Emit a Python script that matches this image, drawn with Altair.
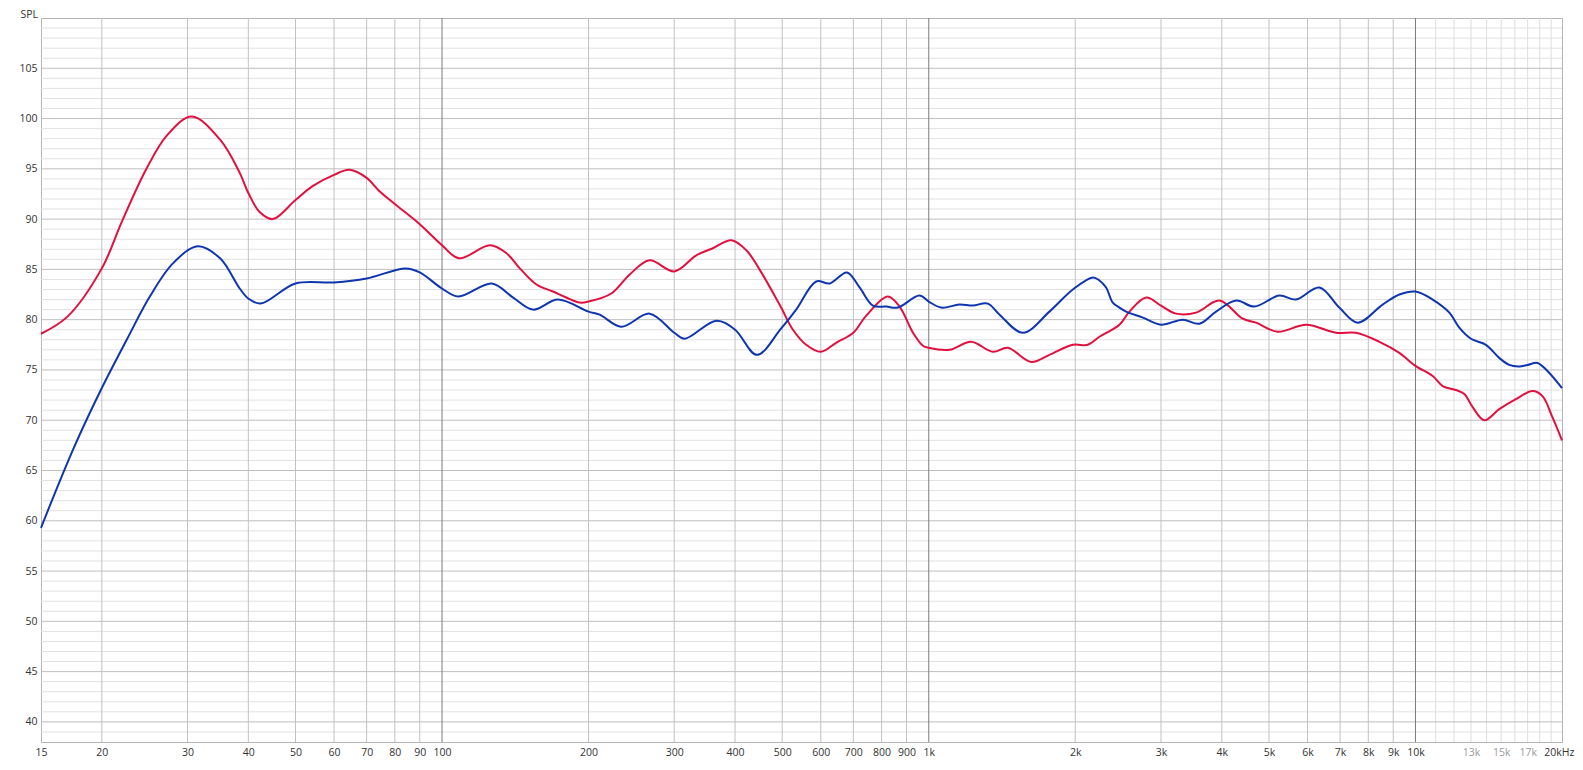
import altair as alt
import pandas as pd

# ---- data ----
red_freq = [15, 17, 20, 21.97, 24.7, 27.2, 30.6, 35.0, 38.4, 40, 42.2, 44.9, 50, 54.3, 60, 64.6, 70, 74.3, 80, 90, 100,
            108.4, 125.4, 135.7, 144.5, 156.3, 169, 180, 191.8, 200, 222.8, 243, 267, 300, 333, 360, 393, 422, 449, 495,
            526, 560, 600, 645, 700, 744, 824, 871, 928, 973, 1000, 1103, 1222, 1354, 1453, 1624, 1770, 1977, 2122,
            2242, 2465, 2584, 2797, 3000, 3221, 3543, 3955, 4416, 4704, 5212, 5961, 6868, 7549, 8430, 9266, 10000,
            10846, 11376, 12113, 12600, 13105, 13849, 14863, 16080, 17395, 18236, 19113, 20000]
red_spl = [78.6, 80.3, 85.1, 89.7, 95.0, 98.3, 100.2, 97.9, 94.6, 92.6, 90.7, 90.0, 91.9, 93.3, 94.4, 94.9, 94.1, 92.8,
           91.5, 89.5, 87.4,
           86.1, 87.4, 86.6, 85.1, 83.5, 82.8, 82.2, 81.7, 81.8, 82.6, 84.5, 85.9, 84.8, 86.4, 87.1, 87.9, 86.9, 85.0,
           81.4,
           79.0, 77.5, 76.8, 77.7, 78.7, 80.4, 82.3, 81.3, 78.7, 77.4, 77.2, 77.0, 77.8, 76.8, 77.2, 75.8, 76.5, 77.5,
           77.5,
           78.3, 79.5, 80.8, 82.2, 81.4, 80.6, 80.7, 81.9, 80.1, 79.7, 78.8, 79.5, 78.7, 78.7, 77.8, 76.7, 75.4,
           74.4, 73.4, 73.0, 72.6, 71.3, 70.0, 71.1, 72.1, 72.9, 72.4, 70.3, 68.0]

blue_freq = [15, 17.5, 20, 22.5, 25.1, 28.0, 31.5, 35, 38.4, 40, 42.4, 50, 60, 70, 84.2, 90, 100,
             108, 126.5, 140, 153.8, 173, 200, 210.8, 233.5, 267, 300, 315, 366, 400, 443.6, 497,
             534, 587, 626, 679, 721, 768, 818, 864, 957, 1000, 1061, 1156, 1232, 1322, 1398, 1561, 1770, 1977,
             2173, 2242, 2314, 2388, 2465, 2544, 2753, 3000, 3325, 3598, 3893, 4280, 4667, 5252, 5683, 6346, 6974,
             7605, 8560, 9266, 10000, 10846, 11738, 12303, 13002, 13957, 14863, 15581, 16337, 16990, 17810, 18669,
             20000]
blue_spl = [59.3, 67.2, 73.2, 78.0, 82.3, 85.6, 87.3, 86.1, 83.1, 82.1, 81.6, 83.6, 83.7, 84.1, 85.1, 84.7, 83.1,
            82.3, 83.6, 82.2, 81.0, 82.0, 80.8, 80.5, 79.3, 80.6, 78.7, 78.1, 79.9, 79.0, 76.5, 79.1,
            81.0, 83.8, 83.6, 84.7, 83.2, 81.4, 81.3, 81.2, 82.4, 81.8, 81.2, 81.5, 81.4, 81.6, 80.5, 78.7, 80.8, 83.0,
            84.2, 83.9, 83.2, 81.7, 81.2, 80.8, 80.2, 79.5, 80.0, 79.6, 80.8, 81.9, 81.3, 82.4, 82.0, 83.2, 81.2,
            79.7, 81.5, 82.5, 82.8, 82.0, 80.7, 79.2, 78.1, 77.5, 76.2, 75.5, 75.35, 75.5, 75.7, 74.9,
            73.2]

x_tick_values = [15, 20, 30, 40, 50, 60, 70, 80, 90, 100, 200, 300, 400, 500, 600, 700, 800, 900,
                 1000, 2000, 3000, 4000, 5000, 6000, 7000, 8000, 9000, 10000, 13000, 15000, 17000, 20000]
x_tick_labels = ["15", "20", "30", "40", "50", "60", "70", "80", "90", "100", "200", "300", "400", "500",
                 "600", "700", "800", "900", "1k", "2k", "3k", "4k", "5k", "6k", "7k", "8k", "9k", "10k",
                 "13k", "15k", "17k", "20kHz"]
x_faint_ticks = [13000, 15000, 17000]
y_tick_values = [40, 45, 50, 55, 60, 65, 70, 75, 80, 85, 90, 95, 100, 105]

grid_x_main = [20, 30, 40, 50, 60, 70, 80, 90, 200, 300, 400, 500, 600, 700, 800, 900,
               2000, 3000, 4000, 5000, 6000, 7000, 8000, 9000]
grid_x_decade = [100, 1000, 10000]
grid_x_high = [11000, 12000, 13000, 14000, 15000, 16000, 17000, 18000, 19000]
grid_y_fine = [v for v in range(39, 110) if v % 5 != 0]
grid_y_major = [40, 45, 50, 55, 60, 65, 70, 75, 80, 85, 90, 95, 100, 105]

FONT = "Open Sans"
X_DOMAIN = [15, 20000]
Y_DOMAIN = [38, 110]

xscale = alt.Scale(type="log", domain=X_DOMAIN, nice=False)
yscale = alt.Scale(domain=Y_DOMAIN, nice=False, zero=False)

series = pd.concat([
    pd.DataFrame({"f": red_freq, "spl": red_spl, "s": "red"}),
    pd.DataFrame({"f": blue_freq, "spl": blue_spl, "s": "blue"}),
])

label_expr = " : ".join(f"datum.value == {v} ? '{t}'" for v, t in zip(x_tick_values, x_tick_labels)) + " : ''"
faint_test = " || ".join(f"datum.value == {v}" for v in x_faint_ticks)

x_axis = alt.Axis(
    values=x_tick_values, labelExpr=label_expr, grid=False, ticks=False, domain=False, title=None,
    labelFont=FONT, labelFontSize=10.5, labelPadding=5, labelOverlap=False, labelBound=False, labelFlush=False,
    labelColor={"condition": {"test": faint_test, "value": "#9a9a9a"}, "value": "#333333"},
    labelAlign={"condition": {"test": "datum.value == 20000", "value": "right"}, "value": "center"},
    labelOffset={"condition": {"test": "datum.value == 20000", "value": 12}, "value": 0},
)
y_axis = alt.Axis(
    values=y_tick_values, grid=False, ticks=False, domain=False, title="SPL",
    labelFont=FONT, labelFontSize=10.5, labelPadding=4, labelColor="#333333",
    titleFont=FONT, titleFontSize=10.5, titleFontWeight="normal", titleColor="#333333",
    titleAngle=0, titleAlign="left", titleBaseline="alphabetic", titleX=-21, titleY=-1,
)


def vrules(vals, color):
    return alt.Chart(pd.DataFrame({"f": vals})).mark_rule(color=color, strokeWidth=1).encode(
        x=alt.X("f:Q", scale=xscale, axis=x_axis))


def hrules(vals, color):
    return alt.Chart(pd.DataFrame({"v": vals})).mark_rule(color=color, strokeWidth=1).encode(
        y=alt.Y("v:Q", scale=yscale, axis=y_axis))


lines = alt.Chart(series).mark_line(strokeWidth=2, interpolate="catmull-rom").encode(
    x=alt.X("f:Q", scale=xscale, axis=x_axis),
    y=alt.Y("spl:Q", scale=yscale, axis=y_axis),
    color=alt.Color("s:N", scale=alt.Scale(domain=["red", "blue"], range=["#e2103f", "#0f36b0"]), legend=None),
    order=alt.Order("f:Q"),
)

chart = alt.layer(
    hrules(grid_y_fine, "#e1e1e1"),
    vrules(grid_x_high, "#dedede"),
    hrules(grid_y_major, "#bebebe"),
    vrules(grid_x_main, "#c2c2c2"),
    vrules(grid_x_decade, "#7c7c7c"),
    lines,
).properties(
    width=1521, height=724,
    autosize=alt.AutoSizeParams(type="none"),
    padding={"left": 33, "top": 10, "right": 13, "bottom": 16},
    background="white",
).configure_view(stroke="#b4b4b4", strokeWidth=1)

chart.save("out.html", embed_options={"renderer": "svg", "actions": False})
